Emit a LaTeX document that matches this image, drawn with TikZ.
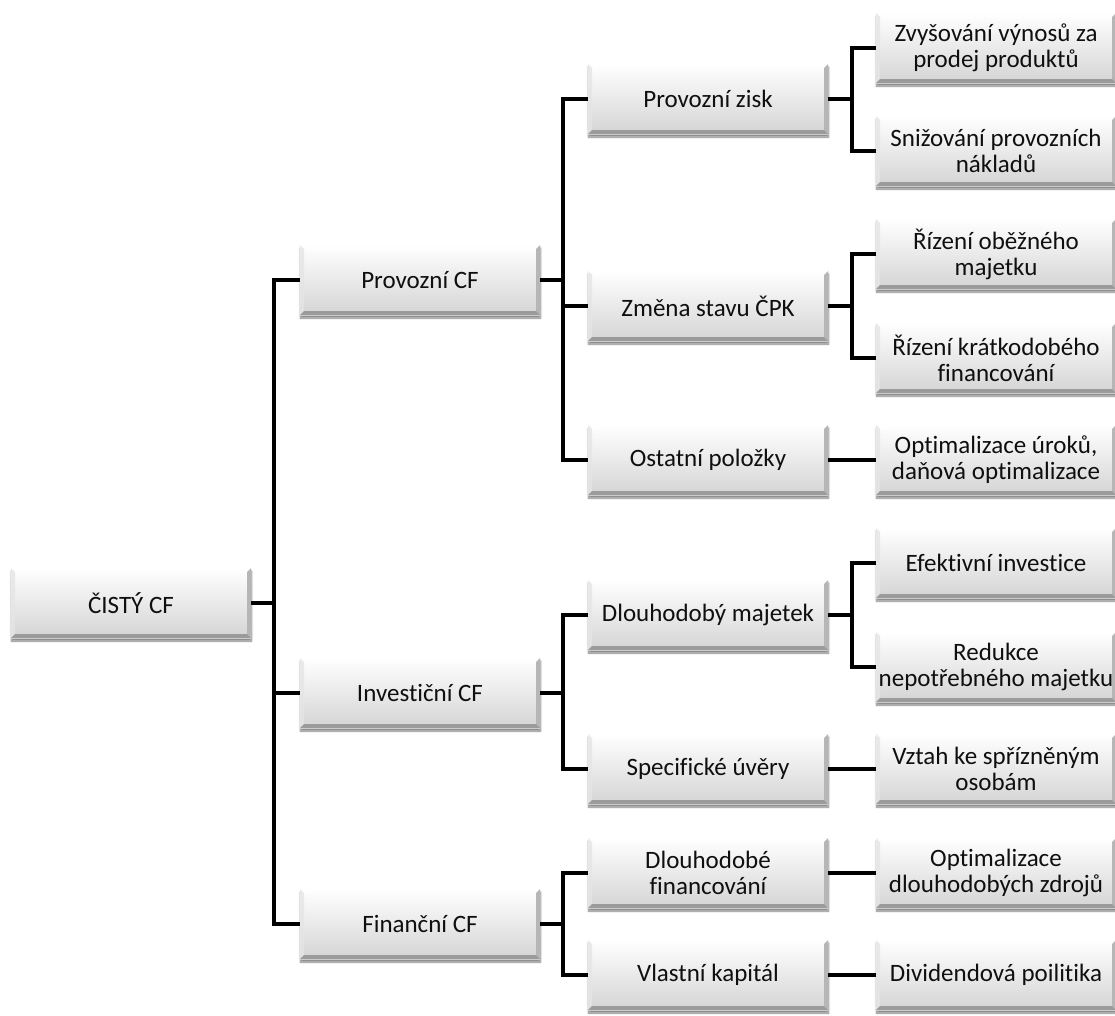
\documentclass[tikz,border=0pt]{standalone}
\usepackage{fontspec}
\setmainfont[Ligatures={NoCommon}]{Carlito}
\usetikzlibrary{calc,shadows.blur}
\definecolor{boxbot}{RGB}{212,212,212}
\definecolor{bevdark}{RGB}{155,155,155}
\definecolor{bevmid}{RGB}{182,182,182}
\definecolor{txt}{RGB}{15,15,15}
\newcommand{\boxfont}{\fontsize{25}{26}\selectfont}
\tikzset{
  box/.style={draw=none, minimum width=240pt, minimum height=70pt, inner sep=1pt,
    align=center, font=\boxfont, text=txt,
    top color=white, bottom color=boxbot,
    blur shadow={shadow xshift=0.5pt, shadow yshift=-3pt, shadow blur steps=6, shadow opacity=50},
    path picture={
      \coordinate (bNW) at (path picture bounding box.north west);
      \coordinate (bNE) at (path picture bounding box.north east);
      \coordinate (bSW) at (path picture bounding box.south west);
      \coordinate (bSE) at (path picture bounding box.south east);
      \fill[white,opacity=0.9] (bNW) -- (bNE) -- ($(bNE)+(-4pt,-4pt)$) -- ($(bNW)+(4pt,-4pt)$) -- cycle;
      \fill[white!80!gray,opacity=0.8] (bNW) -- (bSW) -- ($(bSW)+(4pt,4pt)$) -- ($(bNW)+(4pt,-4pt)$) -- cycle;
      \fill[bevmid] (bNE) -- (bSE) -- ($(bSE)+(-4pt,4pt)$) -- ($(bNE)+(-4pt,-4pt)$) -- cycle;
      \fill[bevdark] (bSW) -- (bSE) -- ($(bSE)+(-4pt,4pt)$) -- ($(bSW)+(4pt,4pt)$) -- cycle;
    }},
  conn/.style={draw=black, line width=4.5pt}
}
\begin{document}
\begin{tikzpicture}[x=1pt,y=1pt]
\useasboundingbox (0,0) rectangle (1115,-1015);
% root
\node[box] (root) at (131,-603) {ČISTÝ CF};
% level 1
\node[box] (pcf) at (420,-280) {Provozní CF};
\node[box] (icf) at (420,-693) {Investiční CF};
\node[box] (fcf) at (420,-924) {Finanční CF};
% level 2
\node[box] (pz) at (708,-99) {Provozní zisk};
\node[box] (zs) at (708,-306) {Změna stavu ČPK};
\node[box] (op) at (708,-460) {Ostatní položky};
\node[box] (dm) at (708,-615) {Dlouhodobý majetek};
\node[box] (su) at (708,-769) {Specifické úvěry};
\node[box] (df) at (708,-873) {Dlouhodobé\\financování};
\node[box] (vk) at (708,-975) {Vlastní kapitál};
% level 3
\node[box] (zv) at (996,-48) {Zvyšování výnosů za\\prodej produktů};
\node[box] (sn) at (996,-151) {Snižování provozních\\nákladů};
\node[box] (ro) at (996,-254) {Řízení oběžného\\majetku};
\node[box] (rk) at (996,-358) {Řízení krátkodobého\\financování};
\node[box] (ou) at (996,-460) {Optimalizace úroků,\\daňová optimalizace};
\node[box] (ei) at (996,-563) {Efektivní investice};
\node[box] (rn) at (996,-667) {Redukce\\nepotřebného majetku};
\node[box] (vs) at (996,-769) {Vztah ke spřízněným\\osobám};
\node[box] (od) at (996,-873) {Optimalizace\\dlouhodobých zdrojů};
\node[box] (dp) at (996,-975) {Dividendová poilitika};
% connectors
\foreach \c in {pcf,icf,fcf} \draw[conn] (root.east) -- ++(23,0) |- (\c.west);
\foreach \c in {pz,zs,op} \draw[conn] (pcf.east) -- ++(23,0) |- (\c.west);
\foreach \c in {dm,su} \draw[conn] (icf.east) -- ++(23,0) |- (\c.west);
\foreach \c in {df,vk} \draw[conn] (fcf.east) -- ++(23,0) |- (\c.west);
\foreach \c in {zv,sn} \draw[conn] (pz.east) -- ++(24,0) |- (\c.west);
\foreach \c in {ro,rk} \draw[conn] (zs.east) -- ++(24,0) |- (\c.west);
\foreach \c in {ei,rn} \draw[conn] (dm.east) -- ++(24,0) |- (\c.west);
\draw[conn] (op.east) -- (ou.west);
\draw[conn] (su.east) -- (vs.west);
\draw[conn] (df.east) -- (od.west);
\draw[conn] (vk.east) -- (dp.west);
\end{tikzpicture}
\end{document}
